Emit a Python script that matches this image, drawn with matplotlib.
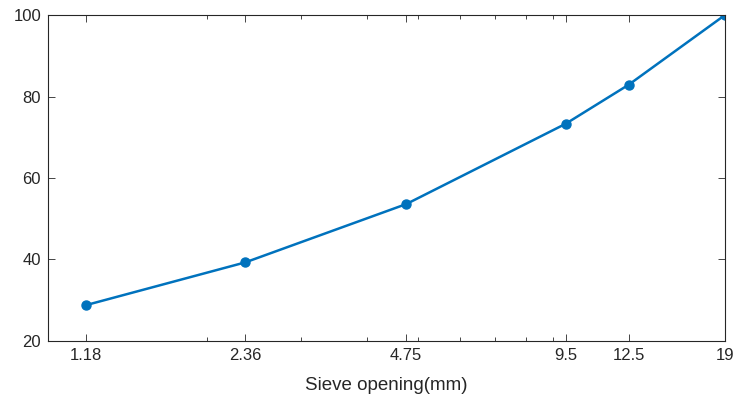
import matplotlib.pyplot as plt
from matplotlib.ticker import FixedLocator, FixedFormatter, LogLocator, NullFormatter

plt.rcParams['font.family'] = ['Liberation Sans', 'DejaVu Sans']

# sieve sizes (mm) and percent passing
sieve = [1.18, 2.36, 4.75, 9.5, 12.5, 19]
passing = [28.8, 39.3, 53.6, 73.3, 82.9, 100]
xlabels = ['1.18', '2.36', '4.75', '9.5', '12.5', '19']
yticks = [20, 40, 60, 80, 100]

fig = plt.figure(figsize=(7.34, 3.96), dpi=100)
ax = fig.add_axes([0.0654, 0.139, 0.9223, 0.823])

ax.plot(sieve, passing, color='#0072BD', lw=1.8, marker='o', ms=6.5)

ax.set_xscale('log')
ax.set_xlim(1, 19)
ax.set_ylim(20, 100)
ax.xaxis.set_major_locator(FixedLocator(sieve))
ax.xaxis.set_major_formatter(FixedFormatter(xlabels))
ax.xaxis.set_minor_locator(LogLocator(base=10, subs=range(2, 10)))
ax.xaxis.set_minor_formatter(NullFormatter())
ax.set_yticks(yticks)

ax.tick_params(which='both', direction='in', top=True, right=True,
               colors='#262626', labelsize=12, width=0.6)
ax.tick_params(which='major', length=5, pad=5)
ax.tick_params(which='minor', length=3)
for s in ax.spines.values():
    s.set_color('#262626')
    s.set_linewidth(0.8)

ax.set_xlabel('Sieve opening(mm)', fontsize=13.5, color='#262626', labelpad=10)

fig.savefig('out.png', dpi=100)
